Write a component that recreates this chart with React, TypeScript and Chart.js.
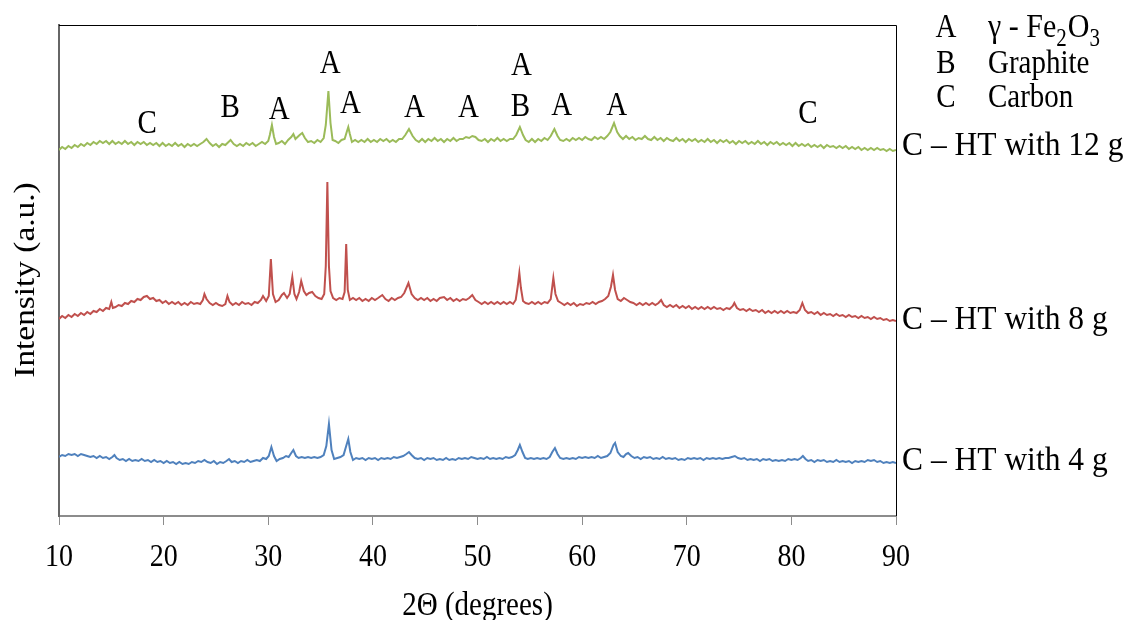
import React, { useEffect, useRef } from "react";
import { Chart, registerables } from "chart.js";

Chart.register(...registerables);

// 2θ (degrees), intensity (a.u.) — curves are stacked with vertical offsets as in the figure
const pattern12g: [number, number][] = [
  [10.0,366],[10.3,369],[10.6,367],[10.9,370],[11.2,368],[11.5,371],[11.8,369],[12.1,372],[12.4,370],[12.7,373],[13.0,371],[13.3,374],[13.6,372],[13.9,375],[14.2,373],[14.5,375],[14.8,372],[15.1,375],[15.4,372],[15.7,374],[16.0,372],[16.3,375],[16.6,372],[16.9,374],[17.2,371],[17.5,374],[17.8,372],[18.1,374],[18.4,371],[18.7,373],[19.0,371],[19.3,373],[19.6,370],[19.9,373],[20.2,370],[20.5,372],[20.8,370],[21.1,373],[21.4,370],[21.7,372],[22.0,369],[22.3,372],[22.6,370],[22.9,372],[23.2,370],[23.5,372],[23.8,374],[24.1,377],[24.4,373],[24.7,370],[25.0,372],[25.3,369],[25.6,372],[25.9,371],[26.2,374],[26.4,376],[26.7,372],[27.0,370],[27.3,372],[27.6,370],[27.9,373],[28.2,371],[28.5,373],[28.8,370],[29.1,372],[29.4,374],[29.7,372],[30.0,375],[30.15,381],[30.35,391],[30.55,379],[30.75,372],[31.0,373],[31.3,375],[31.6,372],[31.9,376],[32.2,379],[32.4,382],[32.6,377],[32.8,379],[33.0,381],[33.25,383],[33.5,378],[33.8,374],[34.1,375],[34.4,373],[34.7,376],[35.0,374],[35.3,378],[35.5,391],[35.75,425],[35.95,393],[36.15,376],[36.4,375],[36.7,373],[37.0,376],[37.3,377],[37.5,384],[37.65,389],[37.8,382],[38.0,374],[38.3,376],[38.6,374],[38.9,376],[39.2,374],[39.5,377],[39.8,374],[40.1,376],[40.4,374],[40.7,377],[41.0,375],[41.3,377],[41.6,374],[41.9,376],[42.2,374],[42.5,377],[42.8,377],[43.1,381],[43.45,387],[43.8,380],[44.1,376],[44.4,374],[44.7,377],[45.0,374],[45.3,377],[45.6,375],[45.9,378],[46.2,375],[46.5,377],[46.8,374],[47.1,377],[47.4,375],[47.7,378],[48.0,375],[48.3,377],[48.6,377],[48.9,379],[49.2,378],[49.5,380],[49.8,379],[50.1,376],[50.4,375],[50.7,377],[51.0,374],[51.3,377],[51.6,375],[51.9,378],[52.2,375],[52.5,377],[52.8,375],[53.1,377],[53.4,377],[53.7,381],[54.05,389],[54.35,381],[54.6,376],[54.9,374],[55.2,377],[55.5,374],[55.8,377],[56.1,375],[56.4,378],[56.7,376],[57.0,380],[57.35,387],[57.65,380],[57.9,376],[58.2,375],[58.5,377],[58.8,375],[59.1,378],[59.4,376],[59.7,378],[60.0,376],[60.3,379],[60.6,377],[60.9,376],[61.2,379],[61.5,377],[61.8,379],[62.1,377],[62.4,380],[62.7,384],[63.05,393],[63.35,384],[63.6,380],[63.9,377],[64.2,380],[64.5,377],[64.8,379],[65.1,376],[65.4,378],[65.7,377],[66.0,380],[66.3,377],[66.6,376],[66.9,379],[67.2,376],[67.5,378],[67.8,375],[68.1,378],[68.4,376],[68.7,375],[69.0,378],[69.3,375],[69.6,377],[69.9,374],[70.2,377],[70.5,375],[70.8,377],[71.1,374],[71.4,376],[71.7,374],[72.0,377],[72.3,374],[72.6,376],[72.9,373],[73.2,376],[73.5,374],[73.8,376],[74.1,373],[74.4,375],[74.7,372],[75.0,375],[75.3,373],[75.6,375],[75.9,372],[76.2,374],[76.5,372],[76.8,375],[77.1,372],[77.4,374],[77.7,371],[78.0,374],[78.3,372],[78.6,374],[78.9,371],[79.2,373],[79.5,371],[79.8,373],[80.1,370],[80.4,373],[80.7,370],[81.0,372],[81.3,370],[81.6,372],[81.9,369],[82.2,371],[82.5,369],[82.8,371],[83.1,368],[83.4,371],[83.7,369],[84.0,370],[84.3,368],[84.6,370],[84.9,368],[85.2,370],[85.5,367],[85.8,369],[86.1,367],[86.4,369],[86.7,366],[87.0,368],[87.3,366],[87.6,368],[87.9,366],[88.2,368],[88.5,366],[88.8,367],[89.1,365],[89.4,367],[89.7,365],[90.0,366]
];

const pattern8g: [number, number][] = [
  [10.0,197],[10.3,200],[10.6,198],[10.9,201],[11.2,199],[11.5,202],[11.8,200],[12.1,203],[12.4,201],[12.7,204],[13.0,202],[13.3,205],[13.6,204],[13.9,207],[14.2,205],[14.5,208],[14.8,207],[15.0,214],[15.15,208],[15.4,209],[15.7,211],[16.0,210],[16.3,213],[16.6,212],[16.9,215],[17.2,214],[17.5,217],[17.8,216],[18.1,219],[18.4,220],[18.7,217],[19.0,218],[19.3,215],[19.6,216],[19.9,213],[20.2,215],[20.5,212],[20.8,214],[21.1,212],[21.4,214],[21.7,211],[22.0,213],[22.3,211],[22.6,214],[22.9,212],[23.2,213],[23.5,212],[23.75,216],[23.9,222],[24.1,217],[24.4,213],[24.7,211],[25.0,213],[25.3,211],[25.6,210],[25.9,212],[26.1,220],[26.3,214],[26.6,211],[26.9,213],[27.2,211],[27.5,214],[27.8,212],[28.1,213],[28.4,211],[28.7,214],[29.0,213],[29.3,216],[29.5,220],[29.8,215],[30.05,220],[30.25,257],[30.45,222],[30.7,214],[31.0,216],[31.3,221],[31.5,223],[31.8,218],[32.05,222],[32.3,239],[32.5,222],[32.7,217],[32.95,224],[33.15,235],[33.4,225],[33.65,221],[33.9,223],[34.2,224],[34.5,220],[34.8,218],[35.1,217],[35.35,222],[35.5,250],[35.65,334],[35.8,250],[35.95,225],[36.2,218],[36.5,216],[36.8,218],[37.1,217],[37.3,224],[37.45,272],[37.6,226],[37.8,216],[38.1,218],[38.4,216],[38.7,218],[39.0,215],[39.3,217],[39.6,215],[39.9,218],[40.2,216],[40.5,218],[40.9,221],[41.2,217],[41.5,215],[41.8,218],[42.1,216],[42.4,218],[42.7,219],[43.0,223],[43.4,233],[43.7,222],[44.0,218],[44.3,216],[44.6,218],[44.9,216],[45.2,218],[45.5,215],[45.8,217],[46.1,215],[46.4,218],[46.8,219],[47.1,216],[47.4,218],[47.7,215],[48.0,217],[48.3,215],[48.6,217],[48.9,216],[49.2,218],[49.5,221],[49.8,216],[50.1,214],[50.4,212],[50.7,214],[51.0,212],[51.3,214],[51.6,212],[51.9,214],[52.2,212],[52.5,214],[52.8,212],[53.1,214],[53.4,212],[53.65,216],[53.85,230],[54.0,243],[54.15,228],[54.35,215],[54.6,213],[54.9,212],[55.2,214],[55.5,212],[55.8,214],[56.1,212],[56.4,214],[56.7,213],[57.0,217],[57.25,238],[57.45,222],[57.7,215],[58.0,213],[58.3,211],[58.6,213],[58.9,211],[59.2,213],[59.5,210],[59.8,212],[60.1,211],[60.4,213],[60.7,212],[61.0,214],[61.3,212],[61.6,214],[61.9,215],[62.2,217],[62.5,220],[62.75,229],[62.95,241],[63.15,226],[63.4,217],[63.7,215],[64.0,218],[64.3,216],[64.6,214],[64.9,213],[65.2,211],[65.5,213],[65.8,211],[66.1,213],[66.4,211],[66.7,213],[67.0,211],[67.3,213],[67.55,216],[67.8,211],[68.1,209],[68.4,211],[68.7,209],[69.0,211],[69.3,208],[69.6,210],[69.9,208],[70.2,210],[70.5,207],[70.8,209],[71.1,207],[71.4,209],[71.7,207],[72.0,209],[72.3,207],[72.6,209],[72.9,207],[73.2,208],[73.5,206],[73.8,208],[74.1,207],[74.4,210],[74.55,213],[74.8,208],[75.1,206],[75.4,207],[75.7,205],[76.0,207],[76.3,205],[76.6,206],[76.9,204],[77.2,206],[77.5,203],[77.8,205],[78.1,203],[78.4,205],[78.7,203],[79.0,205],[79.3,203],[79.6,205],[79.9,203],[80.2,204],[80.5,203],[80.8,206],[81.05,213],[81.3,206],[81.6,203],[81.9,204],[82.2,202],[82.5,204],[82.8,201],[83.1,203],[83.4,201],[83.7,202],[84.0,200],[84.3,202],[84.6,200],[84.9,201],[85.2,199],[85.5,201],[85.8,199],[86.1,200],[86.4,198],[86.7,200],[87.0,198],[87.3,199],[87.6,197],[87.9,199],[88.2,197],[88.5,198],[88.8,196],[89.1,197],[89.4,195],[89.7,196],[90.0,195]
];

const pattern4g: [number, number][] = [
  [10.0,59],[10.3,61],[10.6,60],[10.9,62],[11.2,61],[11.5,62],[11.8,60],[12.1,62],[12.4,61],[12.7,60],[13.0,59],[13.3,60],[13.6,58],[13.9,60],[14.2,58],[14.5,59],[14.8,57],[15.1,59],[15.3,61],[15.5,58],[15.8,56],[16.1,57],[16.4,55],[16.7,57],[17.0,55],[17.3,56],[17.6,55],[17.9,57],[18.2,55],[18.5,56],[18.8,54],[19.1,56],[19.4,54],[19.7,55],[20.0,53],[20.3,55],[20.6,53],[20.9,54],[21.2,52],[21.5,54],[21.8,52],[22.1,53],[22.4,52],[22.7,54],[23.0,53],[23.3,55],[23.6,54],[23.9,56],[24.2,54],[24.5,53],[24.8,55],[25.1,52],[25.4,54],[25.7,53],[26.0,55],[26.25,57],[26.5,54],[26.8,55],[27.1,53],[27.4,55],[27.7,54],[28.0,56],[28.3,54],[28.6,55],[28.9,56],[29.2,55],[29.5,58],[29.8,57],[30.05,60],[30.3,69],[30.55,60],[30.8,55],[31.1,57],[31.4,58],[31.7,60],[31.95,59],[32.2,63],[32.4,66],[32.65,60],[32.9,58],[33.2,59],[33.5,58],[33.8,59],[34.1,58],[34.4,59],[34.7,58],[35.0,59],[35.3,61],[35.55,70],[35.8,92],[36.05,66],[36.3,57],[36.6,58],[36.9,59],[37.2,61],[37.45,70],[37.65,77],[37.85,64],[38.1,56],[38.4,58],[38.7,57],[39.0,58],[39.3,56],[39.6,58],[39.9,57],[40.2,58],[40.5,56],[40.8,58],[41.1,57],[41.4,58],[41.7,57],[42.0,59],[42.3,58],[42.6,59],[42.9,60],[43.2,62],[43.45,64],[43.7,61],[44.0,58],[44.3,57],[44.6,58],[44.9,56],[45.2,58],[45.5,57],[45.8,58],[46.1,56],[46.4,57],[46.7,56],[47.0,58],[47.3,56],[47.6,57],[47.9,56],[48.2,58],[48.5,57],[48.8,58],[49.1,57],[49.4,59],[49.7,58],[50.0,57],[50.3,58],[50.6,57],[50.9,59],[51.2,57],[51.5,58],[51.8,57],[52.1,58],[52.4,57],[52.7,59],[53.0,58],[53.3,59],[53.6,61],[53.85,66],[54.05,71],[54.3,64],[54.55,58],[54.8,57],[55.1,58],[55.4,57],[55.7,58],[56.0,57],[56.3,58],[56.6,57],[56.9,59],[57.15,64],[57.4,68],[57.65,62],[57.9,58],[58.2,57],[58.5,58],[58.8,57],[59.1,58],[59.4,57],[59.7,59],[60.0,58],[60.3,59],[60.6,58],[60.9,59],[61.2,58],[61.5,60],[61.8,58],[62.1,59],[62.4,60],[62.7,63],[63.0,71],[63.15,73],[63.4,64],[63.7,60],[63.95,59],[64.2,62],[64.4,63],[64.7,60],[65.0,58],[65.3,59],[65.6,57],[65.9,59],[66.2,58],[66.5,59],[66.8,57],[67.1,58],[67.4,57],[67.7,59],[68.0,57],[68.3,58],[68.6,57],[68.9,58],[69.2,56],[69.5,57],[69.8,56],[70.1,58],[70.4,57],[70.7,58],[71.0,57],[71.3,58],[71.6,56],[71.9,58],[72.2,57],[72.5,58],[72.8,57],[73.1,58],[73.4,57],[73.7,58],[74.0,58],[74.3,59],[74.6,60],[74.9,58],[75.2,57],[75.5,58],[75.8,56],[76.1,57],[76.4,56],[76.7,57],[77.0,55],[77.3,57],[77.6,56],[77.9,57],[78.2,55],[78.5,56],[78.8,55],[79.1,56],[79.4,55],[79.7,57],[80.0,56],[80.3,57],[80.6,56],[80.9,58],[81.1,60],[81.35,57],[81.6,55],[81.9,56],[82.2,54],[82.5,56],[82.8,55],[83.1,56],[83.4,54],[83.7,55],[84.0,54],[84.3,56],[84.6,54],[84.9,55],[85.2,54],[85.5,55],[85.8,53],[86.1,55],[86.4,54],[86.7,55],[87.0,54],[87.3,56],[87.6,55],[87.9,56],[88.2,54],[88.5,55],[88.8,53],[89.1,54],[89.4,53],[89.7,54],[90.0,53]
];

const seriesNames = ["C – HT with 12 g", "C – HT with 8 g", "C – HT with 4 g"];
const seriesColors = ["#9BBB59", "#C0504D", "#4F81BD"];
const seriesLabelLevel = [361, 187, 46];

// phase markers above the 12 g pattern
const markerLetters = ["C", "B", "A", "A", "A", "A", "A", "A", "B", "A", "A", "C"];
const markerTheta = [18.42, 26.36, 31.05, 35.93, 37.85, 43.97, 49.14, 54.21, 54.11, 58.04, 63.3, 81.58];
const markerLevel = [383, 399, 397, 443, 403, 399, 399, 441, 400, 401, 401, 393];

const legendKeys = ["A", "B", "C"];
const legendPhases = ["Graphite", "Carbon"];
// γ - Fe2O3 pieces: [text, isSubscript]
const legendFormula: [string, boolean][] = [["γ", false], [" - ", false], ["Fe", false], ["2", true], ["O", false], ["3", true]];

const xTickValues = [10, 20, 30, 40, 50, 60, 70, 80, 90];
const xTitle = "2Θ (degrees)";
const yTitle = "Intensity (a.u.)";

const FONT = '"Liberation Serif", "Times New Roman", Times, serif';
const SY = 1.15;

function sText(ctx: CanvasRenderingContext2D, s: string, x: number, y: number, size: number, align: CanvasTextAlign = "left", sy = SY) {
  ctx.save();
  ctx.translate(x, y);
  ctx.scale(1, sy);
  ctx.font = `${size}px ${FONT}`;
  ctx.textAlign = align;
  ctx.textBaseline = "alphabetic";
  ctx.fillStyle = "#000";
  ctx.fillText(s, 0, 0);
  const w = ctx.measureText(s).width;
  ctx.restore();
  return w;
}

const textPlugin = {
  id: "xrdText",
  afterDraw(chart: any) {
    const { ctx, chartArea: a } = chart;
    const xs = chart.scales.x;
    const ys = chart.scales.y;
    ctx.save();
    // top / right frame
    ctx.strokeStyle = "#000";
    ctx.lineWidth = 1;
    ctx.beginPath();
    ctx.moveTo(a.left, a.top + 0.5);
    ctx.lineTo(a.right + 0.5, a.top + 0.5);
    ctx.lineTo(a.right + 0.5, a.bottom);
    ctx.stroke();

    // x tick labels
    xs.ticks.forEach((t: any) => {
      sText(ctx, String(t.value), xs.getPixelForValue(t.value), 566, 28, "center");
    });
    // x title
    sText(ctx, xTitle, (a.left + a.right) / 2, 615, 29, "center");
    // y title (rotated)
    ctx.save();
    ctx.translate(34, 280);
    ctx.scale(1, SY);
    ctx.rotate(-Math.PI / 2);
    ctx.font = `29px ${FONT}`;
    ctx.textAlign = "center";
    ctx.textBaseline = "alphabetic";
    ctx.fillStyle = "#000";
    ctx.fillText(yTitle, 0, 0);
    ctx.restore();

    // peak markers
    markerLetters.forEach((m, i) => {
      sText(ctx, m, xs.getPixelForValue(markerTheta[i]), ys.getPixelForValue(markerLevel[i]), 29, "center");
    });

    // series labels at right
    seriesNames.forEach((n, i) => {
      sText(ctx, n, a.right + 6, ys.getPixelForValue(seriesLabelLevel[i]), 31.5, "left", 1.1);
    });

    // legend
    const keyX = 946;
    const nameX = 988;
    const rows = [37, 73, 107];
    legendKeys.forEach((k, i) => sText(ctx, k, keyX, rows[i], 29, "center"));
    let cx = nameX;
    legendFormula.forEach(([s, sub]) => {
      const w = sText(ctx, s, cx, sub ? rows[0] + 9 : rows[0], sub ? 21 : 30, "left");
      cx += w + (sub ? 1 : 0);
    });
    sText(ctx, legendPhases[0], nameX, rows[1], 29, "left");
    sText(ctx, legendPhases[1], nameX, rows[2], 29, "left");
    ctx.restore();
  },
};

export default function App() {
  const ref = useRef<HTMLCanvasElement | null>(null);
  useEffect(() => {
    if (!ref.current) return;
    const patterns = [pattern12g, pattern8g, pattern4g];
    const chart = new Chart(ref.current, {
      type: "line",
      data: {
        datasets: patterns.map((p, i) => ({
          label: seriesNames[i],
          data: p.map(([x, y]) => ({ x, y })),
          borderColor: seriesColors[i],
          backgroundColor: seriesColors[i],
          borderWidth: 2,
          pointRadius: 0,
          tension: 0,
          fill: false,
        })),
      },
      options: {
        responsive: false,
        animation: false,
        events: [],
        layout: { padding: { left: 59, right: 232, top: 25, bottom: 0 } },
        plugins: { legend: { display: false }, tooltip: { enabled: false }, title: { display: false } },
        scales: {
          x: {
            type: "linear",
            min: 10,
            max: 90,
            afterBuildTicks: (scale: any) => {
              scale.ticks = xTickValues.map((v) => ({ value: v }));
            },
            afterFit: (scale: any) => {
              scale.height = 104;
            },
            ticks: { display: false },
            grid: { display: true, drawOnChartArea: false, drawTicks: true, tickLength: 9, color: "#8c8c8c", lineWidth: 1 },
            border: { display: true, color: "#8c8c8c", width: 2 },
          },
          y: {
            type: "linear",
            min: 0,
            max: 491,
            afterFit: (scale: any) => {
              scale.width = 0;
            },
            ticks: { display: false },
            grid: { display: false },
            border: { display: true, color: "#666666", width: 2 },
          },
        },
      },
      plugins: [textPlugin],
    } as any);
    return () => chart.destroy();
  }, []);
  return (
    <div style={{ position: "fixed", left: 0, top: 0, width: 1128, height: 620, background: "#fff" }}>
      <canvas ref={ref} width={1128} height={620} />
    </div>
  );
}
